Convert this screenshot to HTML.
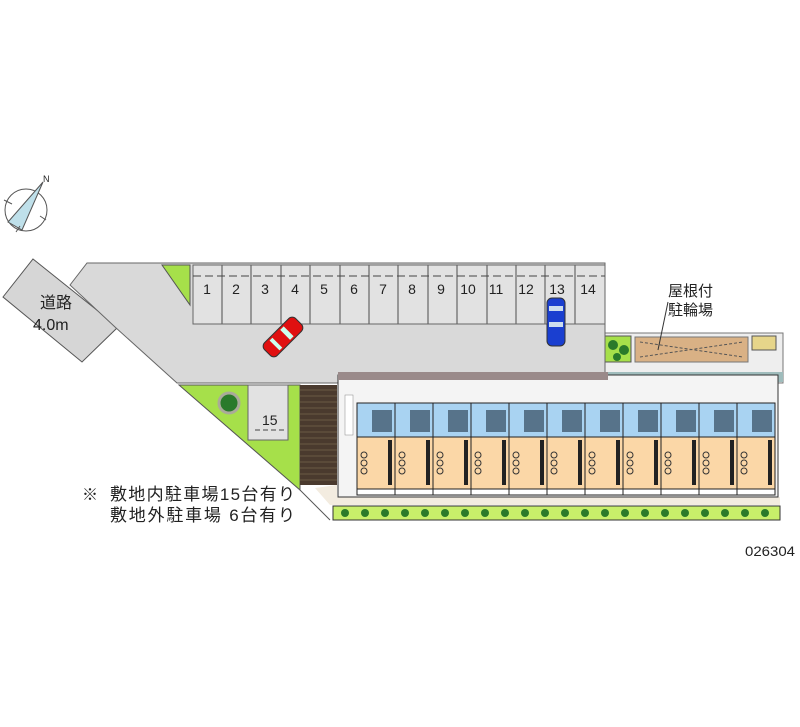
<!DOCTYPE html>
<html><head><meta charset="utf-8"><style>
html,body{margin:0;padding:0;background:#fff;}
svg{display:block}
text{font-family:"Liberation Sans","Noto Sans CJK JP",sans-serif;fill:#222}
</style></head><body>
<svg width="800" height="727" viewBox="0 0 800 727" xmlns="http://www.w3.org/2000/svg">
<!-- compass -->
<g stroke="#555" fill="none" stroke-width="1">
<circle cx="26" cy="210" r="21"/>
<polygon points="43,182 8,222 22,230" fill="#bfe0ea"/>
<line x1="4" y1="200" x2="12" y2="204"/><line x1="46" y1="220" x2="40" y2="216"/>
<line x1="16" y1="232" x2="20" y2="226"/>
</g>
<text x="43" y="182" font-size="9">N</text>
<!-- road -->
<polygon points="33,259 118,327 82,362 3,297" fill="#d6d6d6" stroke="#555" stroke-width="1"/>
<text x="40" y="308" font-size="16">道路</text>
<text x="33" y="330" font-size="16">4.0m</text>
<!-- right annex -->
<rect x="603" y="333" width="180" height="50" fill="#eeeeee" stroke="#777"/>
<rect x="603" y="372" width="180" height="10" fill="#9fbcbc"/>
<rect x="605" y="336" width="26" height="26" fill="#a6e04a" stroke="#555"/>
<circle cx="613" cy="345" r="5" fill="#2a7a2a"/><circle cx="624" cy="350" r="5" fill="#2a7a2a"/><circle cx="617" cy="357" r="4" fill="#2a7a2a"/>
<rect x="635" y="337" width="113" height="25" fill="#d9b185" stroke="#777"/>
<path d="M640 342 L743 357 M640 357 L743 342" stroke="#555" stroke-dasharray="3,2" fill="none"/>
<rect x="752" y="336" width="24" height="14" fill="#e6d58a" stroke="#555"/>
<line x1="658" y1="350" x2="668" y2="302" stroke="#333"/>
<text x="668" y="296" font-size="15">屋根付</text>
<text x="668" y="315" font-size="15">駐輪場</text>
<!-- lot -->
<polygon points="70,285 87,263 605,263 605,381 340,381 340,383 177,383 115,327" fill="#d9d9d9" stroke="#666"/>
<polygon points="162,265 190,265 190,305" fill="#a6e04a" stroke="#555"/>
<!-- parking -->
<rect x="193" y="265" width="412" height="59" fill="#e2e2e2" stroke="#666"/>
<g stroke="#666" stroke-width="1.2">
<line x1="222" y1="265" x2="222" y2="324"/><line x1="251" y1="265" x2="251" y2="324"/><line x1="281" y1="265" x2="281" y2="324"/><line x1="310" y1="265" x2="310" y2="324"/><line x1="340" y1="265" x2="340" y2="324"/><line x1="369" y1="265" x2="369" y2="324"/><line x1="398" y1="265" x2="398" y2="324"/><line x1="428" y1="265" x2="428" y2="324"/><line x1="457" y1="265" x2="457" y2="324"/><line x1="487" y1="265" x2="487" y2="324"/><line x1="516" y1="265" x2="516" y2="324"/><line x1="545" y1="265" x2="545" y2="324"/><line x1="575" y1="265" x2="575" y2="324"/>
</g>
<line x1="193" y1="276" x2="605" y2="276" stroke="#444" stroke-dasharray="8,4"/>
<g font-size="14" text-anchor="middle">
<text x="207" y="294">1</text><text x="236" y="294">2</text><text x="265" y="294">3</text><text x="295" y="294">4</text><text x="324" y="294">5</text><text x="354" y="294">6</text><text x="383" y="294">7</text><text x="412" y="294">8</text><text x="441" y="294">9</text><text x="468" y="294">10</text><text x="496" y="294">11</text><text x="526" y="294">12</text><text x="557" y="294">13</text><text x="588" y="294">14</text>
</g>
<!-- cars -->
<g transform="translate(283,337) rotate(45)"><rect x="-9" y="-22" width="18" height="44" rx="5" fill="#e01010" stroke="#333"/><rect x="-7" y="-8" width="14" height="5" fill="#cfe"/><rect x="-7" y="8" width="14" height="4" fill="#cfe"/></g>
<g><rect x="547" y="298" width="18" height="48" rx="5" fill="#1a3fd0" stroke="#333"/><rect x="549" y="306" width="14" height="5" fill="#cde"/><rect x="549" y="322" width="14" height="5" fill="#cde"/></g>
<!-- lower green -->
<polygon points="179,385 300,385 300,490" fill="#a6e04a" stroke="#555"/>
<line x1="300" y1="490" x2="330" y2="520" stroke="#555"/>
<circle cx="229" cy="403" r="10" fill="#2a7a2a" stroke="#aa9" stroke-width="3"/>
<rect x="248" y="385" width="40" height="55" fill="#e2e2e2" stroke="#666"/>
<text x="262" y="425" font-size="14">15</text>
<line x1="255" y1="430" x2="285" y2="430" stroke="#444" stroke-dasharray="5,3"/>
<rect x="300" y="385" width="37" height="100" fill="#4a3a2e"/>
<g stroke="#8a7a5a" stroke-width="0.6">
<path d="M300 390H337M300 396H337M300 402H337M300 408H337M300 414H337M300 420H337M300 426H337M300 432H337M300 438H337M300 444H337M300 450H337M300 456H337M300 462H337M300 468H337M300 474H337M300 480H337"/>
</g>
<!-- building -->
<polygon points="315,488 337,485 337,497 780,497 780,505 330,505" fill="#f3ece0"/>
<rect x="338" y="375" width="440" height="122" fill="#f4f4f4" stroke="#333"/>
<rect x="338" y="372" width="270" height="8" fill="#9a8a8a"/>
<rect x="345" y="395" width="8" height="40" fill="#fff" stroke="#888" stroke-width="0.5"/>
<g id="u">
<rect x="357" y="403" width="38" height="34" fill="#a9d3f2" stroke="#222"/>
<rect x="357" y="437" width="38" height="52" fill="#fbd7a7" stroke="#222"/>
<rect x="372" y="410" width="20" height="22" fill="#234" opacity="0.6"/>
<rect x="388" y="440" width="4" height="45" fill="#222"/>
<circle cx="364" cy="455" r="3" fill="none" stroke="#333"/><circle cx="364" cy="463" r="3" fill="none" stroke="#333"/><circle cx="364" cy="471" r="3" fill="none" stroke="#333"/>
<rect x="357" y="489" width="38" height="6" fill="#fff" stroke="#222"/>
</g>
<use href="#u" x="38"/><use href="#u" x="76"/><use href="#u" x="114"/><use href="#u" x="152"/><use href="#u" x="190"/><use href="#u" x="228"/><use href="#u" x="266"/><use href="#u" x="304"/><use href="#u" x="342"/><use href="#u" x="380"/>
<!-- bottom hedge -->
<rect x="333" y="506" width="447" height="14" fill="#c8ef6a" stroke="#333"/>
<g fill="#2a7a2a">
<circle cx="345" cy="513" r="4"/><circle cx="365" cy="513" r="4"/><circle cx="385" cy="513" r="4"/><circle cx="405" cy="513" r="4"/><circle cx="425" cy="513" r="4"/><circle cx="445" cy="513" r="4"/><circle cx="465" cy="513" r="4"/><circle cx="485" cy="513" r="4"/><circle cx="505" cy="513" r="4"/><circle cx="525" cy="513" r="4"/><circle cx="545" cy="513" r="4"/><circle cx="565" cy="513" r="4"/><circle cx="585" cy="513" r="4"/><circle cx="605" cy="513" r="4"/><circle cx="625" cy="513" r="4"/><circle cx="645" cy="513" r="4"/><circle cx="665" cy="513" r="4"/><circle cx="685" cy="513" r="4"/><circle cx="705" cy="513" r="4"/><circle cx="725" cy="513" r="4"/><circle cx="745" cy="513" r="4"/><circle cx="765" cy="513" r="4"/>
</g>
<!-- notes -->
<text x="82" y="500" font-size="16">※</text>
<text x="110" y="500" font-size="17" textLength="185" lengthAdjust="spacing">敷地内駐車場15台有り</text>
<text x="110" y="521" font-size="17" textLength="185" lengthAdjust="spacing">敷地外駐車場 6台有り</text>
<text x="745" y="556" font-size="14" textLength="50" lengthAdjust="spacingAndGlyphs">026304</text>
</svg>
</body></html>
